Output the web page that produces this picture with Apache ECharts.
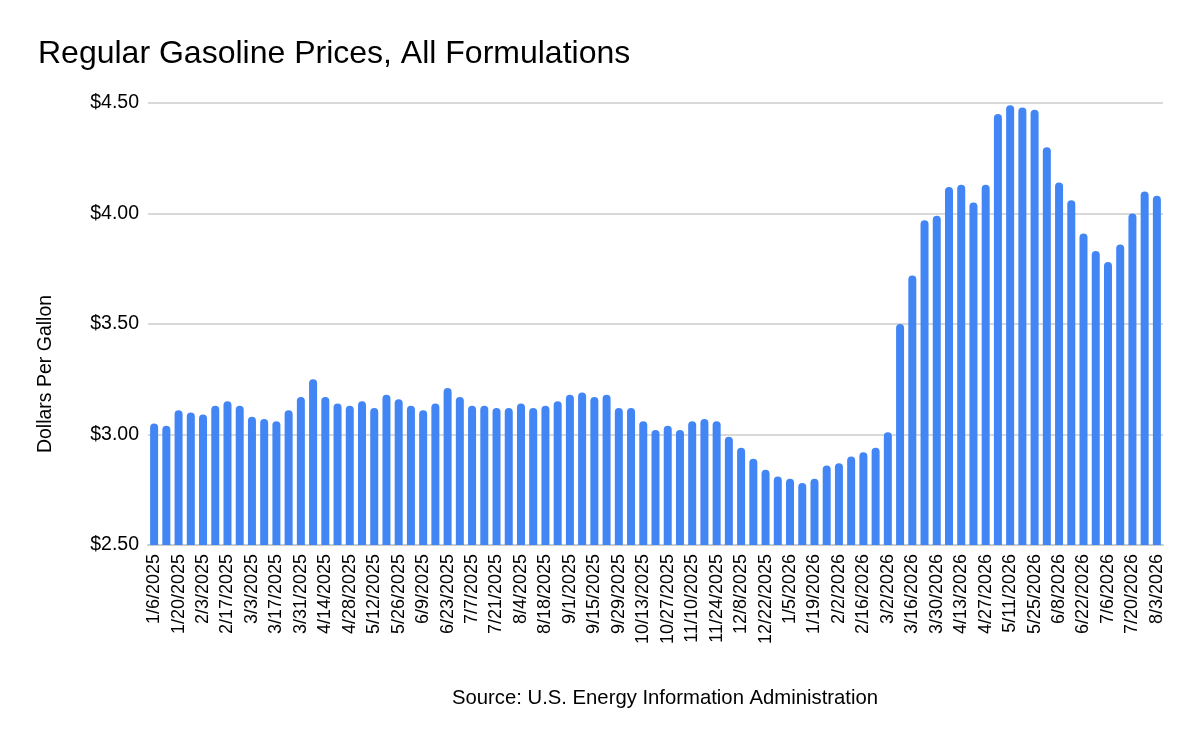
<!DOCTYPE HTML>
<html>
<head>
	<meta charset="utf-8"/>
	<title>Regular Gasoline Prices</title>
	<style>
		* { padding: 0px; margin: 0px; }
		body { background: #ffffff; }
		#chart { width: 1200px; height: 742px; }
	</style>
</head>
<body>
	<div id="chart"></div>
	<script type="text/javascript" src="https://cdn.jsdelivr.net/npm/echarts@6/dist/echarts.min.js"></script>
	<script>
		// weekly dates, 1/6/2025 .. 8/3/2026
		const weeks2025 = ['1/6','1/13','1/20','1/27','2/3','2/10','2/17','2/24','3/3','3/10','3/17','3/24','3/31',
			'4/7','4/14','4/21','4/28','5/5','5/12','5/19','5/26','6/2','6/9','6/16','6/23','6/30',
			'7/7','7/14','7/21','7/28','8/4','8/11','8/18','8/25','9/1','9/8','9/15','9/22','9/29',
			'10/6','10/13','10/20','10/27','11/3','11/10','11/17','11/24','12/1','12/8','12/15','12/22','12/29'];
		const weeks2026 = ['1/5','1/12','1/19','1/26','2/2','2/9','2/16','2/23','3/2','3/9','3/16','3/23','3/30',
			'4/6','4/13','4/20','4/27','5/4','5/11','5/18','5/25','6/1','6/8','6/15','6/22','6/29',
			'7/6','7/13','7/20','7/27','8/3'];
		const categories = weeks2025.map(d => d + '/2025').concat(weeks2026.map(d => d + '/2026'));

		const prices = [
			3.05, 3.04, 3.11, 3.10, 3.09, 3.13, 3.15, 3.13, 3.08, 3.07, 3.06, 3.11, 3.17,
			3.25, 3.17, 3.14, 3.13, 3.15, 3.12, 3.18, 3.16, 3.13, 3.11, 3.14, 3.21, 3.17,
			3.13, 3.13, 3.12, 3.12, 3.14, 3.12, 3.13, 3.15, 3.18, 3.19, 3.17, 3.18, 3.12,
			3.12, 3.06, 3.02, 3.04, 3.02, 3.06, 3.07, 3.06, 2.99, 2.94, 2.89, 2.84, 2.81,
			2.80, 2.78, 2.80, 2.86, 2.87, 2.90, 2.92, 2.94, 3.01, 3.50, 3.72, 3.97, 3.99,
			4.12, 4.13, 4.05, 4.13, 4.45, 4.49, 4.48, 4.47, 4.30, 4.14, 4.06, 3.91, 3.83,
			3.78, 3.86, 4.00, 4.10, 4.08
		];

		const yTicks = [2.5, 3.0, 3.5, 4.0, 4.5];

		const font = 'Liberation Sans, Arial, sans-serif';
		let myChart = echarts.init(document.getElementById('chart'));
		let option = {
			animation: false,
			title: [{
				text: 'Regular Gasoline Prices, All Formulations',
				left: 33,
				top: 33,
				textStyle: { fontFamily: font, fontSize: 32, fontWeight: 'normal', color: '#000' }
			}, {
				text: 'Source: U.S. Energy Information Administration',
				left: 660,
				top: 683,
				textAlign: 'center',
				textStyle: { fontFamily: font, fontSize: 20.3, fontWeight: 'normal', color: '#000' }
			}],
			// axis title is centred on plot + tick labels, not on the plot alone
			graphic: [{
				type: 'text',
				x: 46,
				y: 374,
				rotation: Math.PI / 2,
				style: {
					text: 'Dollars Per Gallon',
					fontFamily: font,
					fontSize: 19.5,
					fill: '#000',
					align: 'center',
					verticalAlign: 'middle'
				}
			}],
			grid: { left: 148, right: 37, top: 103, bottom: 197 },
			xAxis: {
				type: 'category',
				data: categories,
				axisTick: { show: false },
				axisLine: { lineStyle: { color: '#cccccc', width: 2 } },
				axisLabel: {
					interval: 1,
					rotate: 90,
					margin: 9,
					fontFamily: font,
					fontSize: 18,
					color: '#000'
				}
			},
			yAxis: {
				type: 'value',
				min: yTicks[0],
				max: yTicks[yTicks.length - 1],
				interval: 0.5,
				axisLabel: {
					margin: 9,
					fontFamily: font,
					fontSize: 19.5,
					color: '#000',
					formatter: v => '$' + v.toFixed(2)
				},
				splitLine: { lineStyle: { color: '#cccccc', width: 1.5 } }
			},
			series: [{
				type: 'bar',
				data: prices,
				barWidth: 8,
				itemStyle: { color: '#4285f4', borderRadius: [4, 4, 0, 0] }
			}]
		};
		myChart.setOption(option, true);
	</script>
</body>
</html>
